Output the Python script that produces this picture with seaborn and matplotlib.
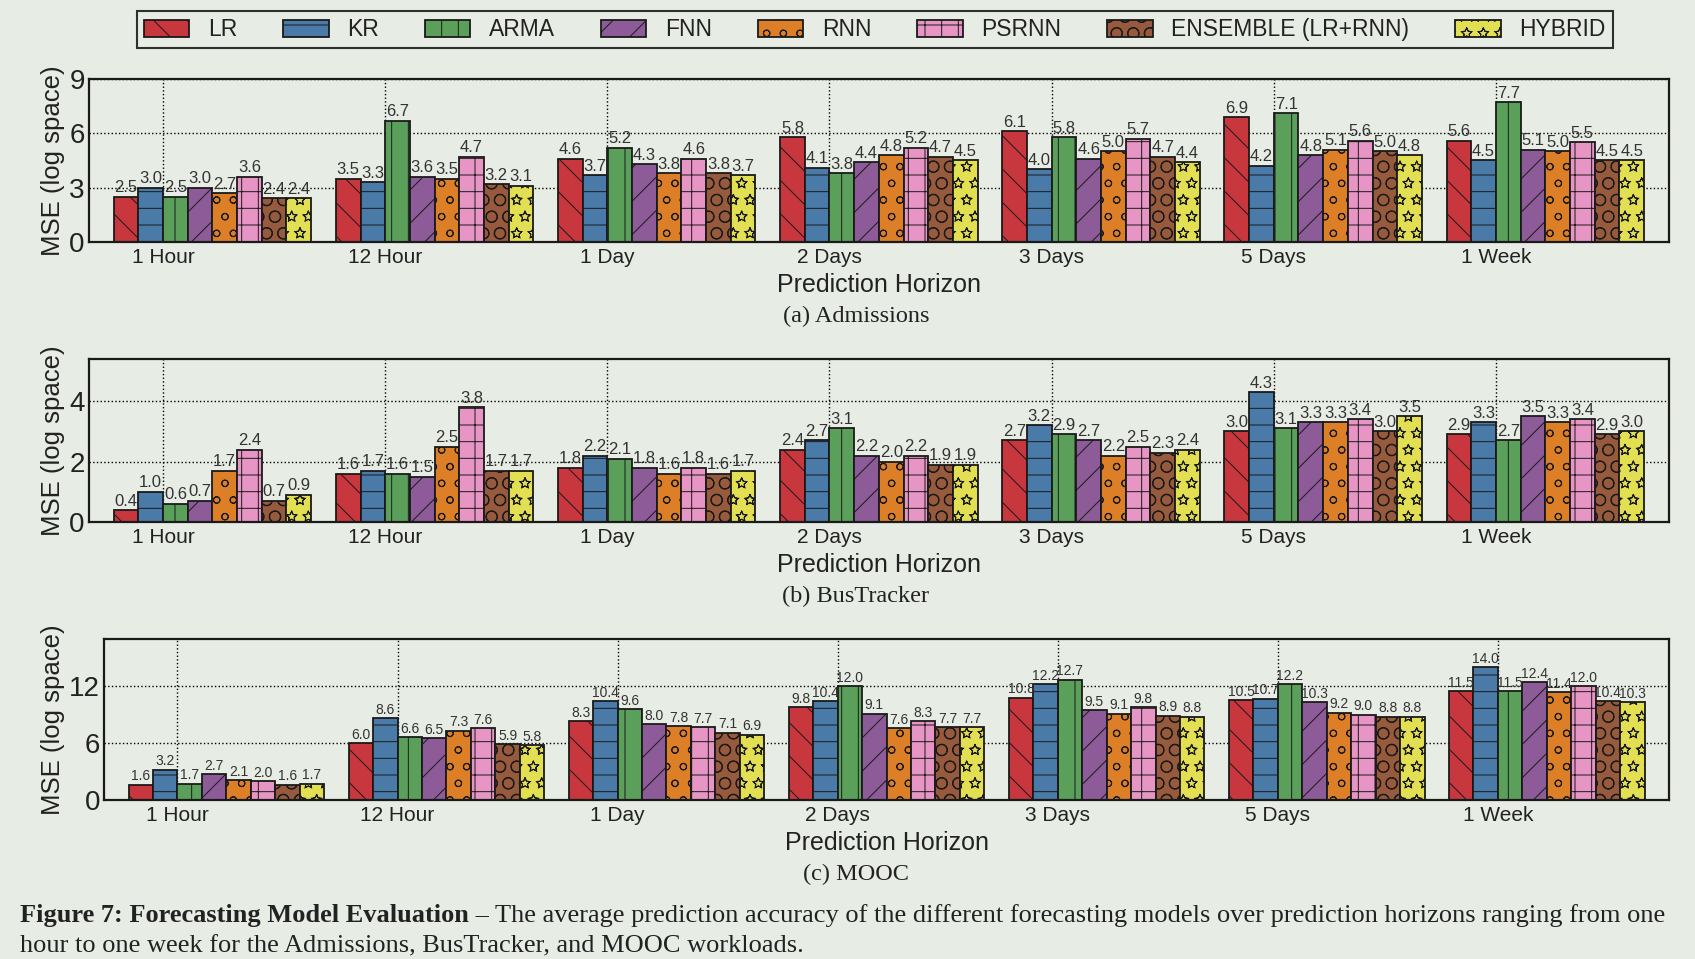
import numpy as np
import pandas as pd
import matplotlib
matplotlib.use("Agg")
import matplotlib.pyplot as plt
import matplotlib.hatch as mhatch
import seaborn as sns
from matplotlib.patches import Patch

# ---- data ----
models = ['LR', 'KR', 'ARMA', 'FNN', 'RNN', 'PSRNN', 'ENSEMBLE (LR+RNN)', 'HYBRID']
horizons = ['1 Hour', '12 Hour', '1 Day', '2 Days', '3 Days', '5 Days', '1 Week']

# one row per horizon, one value per model
admissions = [
    [2.5, 3.0, 2.5, 3.0, 2.7, 3.6, 2.4, 2.4],
    [3.5, 3.3, 6.7, 3.6, 3.5, 4.7, 3.2, 3.1],
    [4.6, 3.7, 5.2, 4.3, 3.8, 4.6, 3.8, 3.7],
    [5.8, 4.1, 3.8, 4.4, 4.8, 5.2, 4.7, 4.5],
    [6.1, 4.0, 5.8, 4.6, 5.0, 5.7, 4.7, 4.4],
    [6.9, 4.2, 7.1, 4.8, 5.1, 5.6, 5.0, 4.8],
    [5.6, 4.5, 7.7, 5.1, 5.0, 5.5, 4.5, 4.5],
]
bustracker = [
    [0.4, 1.0, 0.6, 0.7, 1.7, 2.4, 0.7, 0.9],
    [1.6, 1.7, 1.6, 1.5, 2.5, 3.8, 1.7, 1.7],
    [1.8, 2.2, 2.1, 1.8, 1.6, 1.8, 1.6, 1.7],
    [2.4, 2.7, 3.1, 2.2, 2.0, 2.2, 1.9, 1.9],
    [2.7, 3.2, 2.9, 2.7, 2.2, 2.5, 2.3, 2.4],
    [3.0, 4.3, 3.1, 3.3, 3.3, 3.4, 3.0, 3.5],
    [2.9, 3.3, 2.7, 3.5, 3.3, 3.4, 2.9, 3.0],
]
mooc = [
    [1.6, 3.2, 1.7, 2.7, 2.1, 2.0, 1.6, 1.7],
    [6.0, 8.6, 6.6, 6.5, 7.3, 7.6, 5.9, 5.8],
    [8.3, 10.4, 9.6, 8.0, 7.8, 7.7, 7.1, 6.9],
    [9.8, 10.4, 12.0, 9.1, 7.6, 8.3, 7.7, 7.7],
    [10.8, 12.2, 12.7, 9.5, 9.1, 9.8, 8.9, 8.8],
    [10.5, 10.7, 12.2, 10.3, 9.2, 9.0, 8.8, 8.8],
    [11.5, 14.0, 11.5, 12.4, 11.4, 12.0, 10.4, 10.3],
]

colors = ['#c8373d', '#4a7ba8', '#5aa05a', '#8d5b97', '#dd7f26', '#e795c4', '#985a3c', '#e2e052']
hatches = ['\\', '-', '|', '/', 'o', '+', 'O', '*']

BG = '#e7ece4'
INK = '#222222'

# outlined stars instead of filled ones
mhatch.Stars.filled = False

sns.set_style("white")
plt.rcParams['font.family'] = ['Liberation Sans', 'DejaVu Sans']
plt.rcParams['hatch.linewidth'] = 0.7
plt.rcParams['hatch.color'] = '#1a1a1a'

fig = plt.figure(figsize=(16.95, 9.59), dpi=100, facecolor=BG)

panels = [
    (admissions, [0.0525, 0.7477, 0.932, 0.170], 9, [0, 3, 6, 9], '(a) Admissions', 0.670, 12),
    (bustracker, [0.0525, 0.4557, 0.932, 0.170], 5.4, [0, 2, 4], '(b) BusTracker', 0.378, 12),
    (mooc, [0.0614, 0.1658, 0.9233, 0.168], 17, [0, 6, 12], '(c) MOOC', 0.088, 10),
]

for values, rect, ymax, yticks, sub, sub_y, lab_size in panels:
    rows = []
    for h, vals in zip(horizons, values):
        for m, v in zip(models, vals):
            rows.append({'horizon': h, 'model': m, 'mse': v})
    df = pd.DataFrame(rows)

    ax = fig.add_axes(rect)
    ax.set_facecolor(BG)
    sns.barplot(data=df, x='horizon', y='mse', hue='model', order=horizons,
                hue_order=models, palette=colors, saturation=1, width=8 / 9,
                edgecolor='#1a1a1a', linewidth=1.3, legend=False, ax=ax)

    for k, cont in enumerate(ax.containers):
        for bar in cont:
            bar.set_hatch(hatches[k])
        ax.bar_label(cont, fmt='%.1f', padding=1, fontsize=lab_size, color='#333333')

    ax.set_xlim(-5 / 9, 6 + 5 / 9)
    ax.set_ylim(0, ymax)
    ax.set_xticks(np.arange(len(horizons)) - 2 / 9, horizons)
    ax.set_yticks(yticks)
    ax.tick_params(axis='x', labelsize=15, length=0, pad=4, colors=INK)
    ax.tick_params(axis='y', labelsize=20, length=0, pad=3, colors=INK)
    ax.grid(True, linestyle=':', color='black', linewidth=1.0)
    ax.set_axisbelow(True)
    for s in ax.spines.values():
        s.set_linewidth(1.6)
        s.set_color('#1a1a1a')
    ax.set_xlabel('Prediction Horizon', fontsize=18, color=INK, labelpad=5)
    ax.set_ylabel('MSE (log space)', fontsize=18.5, color=INK, labelpad=3)

    fig.text(0.505, sub_y, sub, ha='center', va='center', fontsize=17.5,
             family='Liberation Serif', color=INK)

handles = [Patch(facecolor=c, edgecolor='#1a1a1a', hatch=h, linewidth=1.3)
           for c, h in zip(colors, hatches)]
leg = fig.legend(handles, models, loc='center', bbox_to_anchor=(0.516, 0.969),
                 ncol=8, fontsize=16.5, frameon=True, fancybox=False,
                 handlelength=2.0, handleheight=0.75, handletextpad=0.8,
                 columnspacing=2.0, borderpad=0.3)
leg.get_frame().set_edgecolor('black')
leg.get_frame().set_linewidth(1.5)
leg.get_frame().set_facecolor(BG)
for t in leg.get_texts():
    t.set_color(INK)

# caption
cap_size = 19
bold = fig.text(0.012, 0.045, 'Figure 7: Forecasting Model Evaluation', fontsize=cap_size,
                family='Liberation Serif', weight='bold', color=INK, va='center')
fig.canvas.draw()
bb = bold.get_window_extent().transformed(fig.transFigure.inverted())
fig.text(bb.x1, 0.045, ' \u2013 The average prediction accuracy of the different forecasting '
         'models over prediction horizons ranging from one', fontsize=cap_size,
         family='Liberation Serif', color=INK, va='center')
fig.text(0.012, 0.013, 'hour to one week for the Admissions, BusTracker, and MOOC workloads.',
         fontsize=cap_size, family='Liberation Serif', color=INK, va='center')

fig.savefig('out.png', dpi=100, facecolor=BG)
